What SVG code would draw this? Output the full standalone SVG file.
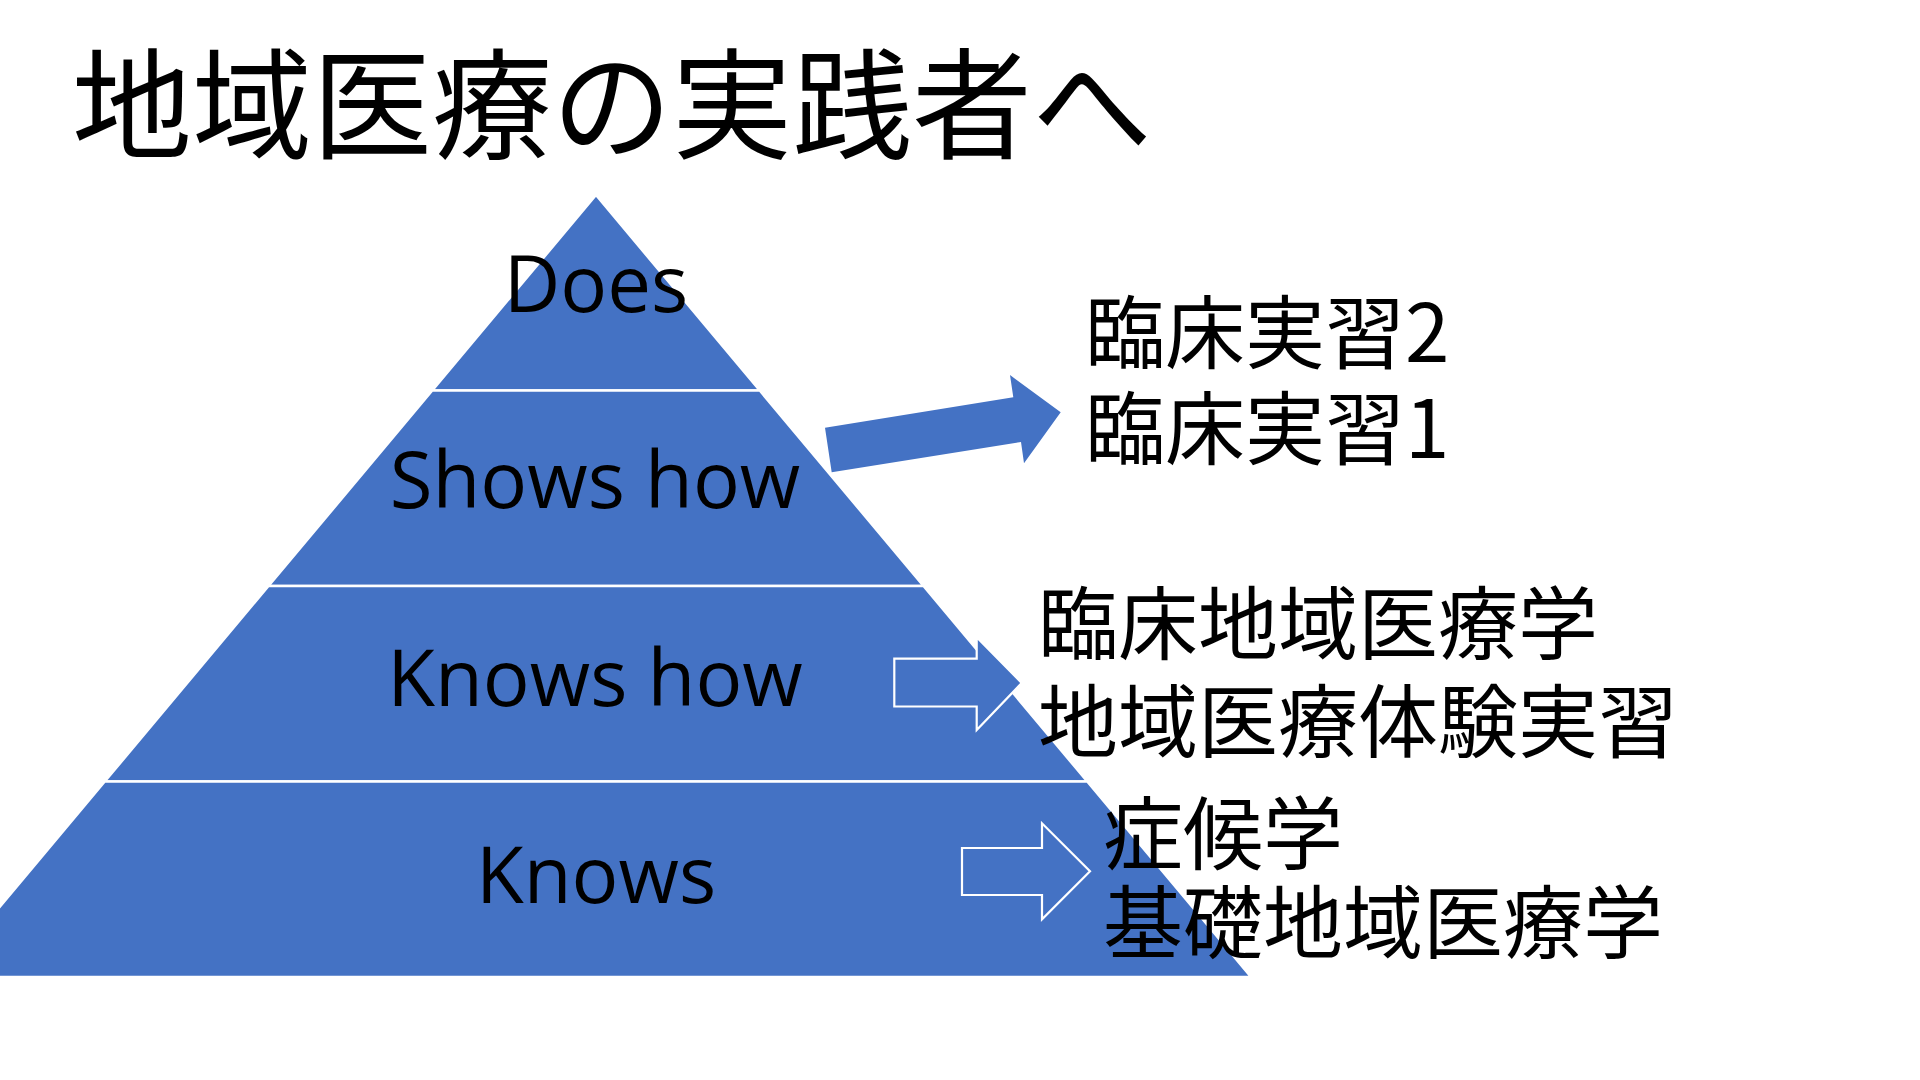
<svg xmlns="http://www.w3.org/2000/svg" width="1920" height="1080" viewBox="0 0 1920 1080">
  <style>
    .lvl { fill: #4472C4; stroke: #FFFFFF; stroke-width: 2.5; stroke-linejoin: miter; }
    .lbl { font-family: "Open Sans", "Noto Sans", "Noto Sans CJK JP", sans-serif; font-size: 78px; fill: #000000; text-anchor: middle; }
    .jp { font-family: "Noto Sans CJK JP", "Noto Sans", sans-serif; font-size: 80px; fill: #000000; }
    .title { font-family: "Noto Sans CJK JP", "Noto Sans", sans-serif; font-size: 120px; fill: #000000; }
    .solid { fill: #4472C4; stroke: none; }
    .outline { fill: #4472C4; stroke: #FFFFFF; stroke-width: 2.2; stroke-linejoin: miter; }
  </style>
  <rect x="0" y="0" width="1920" height="1080" fill="#FFFFFF"/>

  <g id="title">
    <text class="title" x="72" y="150">地域医療の実践者へ</text>
  </g>

  <g id="level-does">
    <polygon class="lvl" points="596,195 759.75,390.5 432.25,390.5"/>
    <text class="lbl" x="596" y="312">Does</text>
  </g>
  <g id="level-shows-how">
    <polygon class="lvl" points="432.25,390.5 759.75,390.5 923.5,586 268.5,586"/>
    <text class="lbl" x="595" y="508">Shows how</text>
  </g>
  <g id="level-knows-how">
    <polygon class="lvl" points="268.5,586 923.5,586 1087.25,781.5 104.75,781.5"/>
    <text class="lbl" x="595" y="706">Knows how</text>
  </g>
  <g id="level-knows">
    <polygon class="lvl" points="104.75,781.5 1087.25,781.5 1251,977 -59,977"/>
    <text class="lbl" x="596" y="903">Knows</text>
  </g>

  <g id="connectors">
    <polygon class="solid" points="825,427.7 1013.3,397.3 1010,375 1060.7,412.3 1024,463.3 1021,442 831.7,472.3"/>
    <path class="outline" d="M894.3,658.7 H976.7 V637.3 L1021.7,683 L976.7,730 V706.5 H894.3 Z"/>
    <path class="outline" d="M962,848 H1042 V823.3 L1090,871.3 L1042,919.3 V895 H962 Z"/>
  </g>

  <g id="text-clinical">
    <text class="jp" x="1085" y="362">臨床実習2</text>
    <text class="jp" x="1085" y="458">臨床実習1</text>
  </g>
  <g id="text-community">
    <text class="jp" x="1038" y="653">臨床地域医療学</text>
    <text class="jp" x="1038" y="751">地域医療体験実習</text>
  </g>
  <g id="text-basic">
    <text class="jp" x="1103" y="863">症候学</text>
    <text class="jp" x="1103" y="952">基礎地域医療学</text>
  </g>
</svg>
